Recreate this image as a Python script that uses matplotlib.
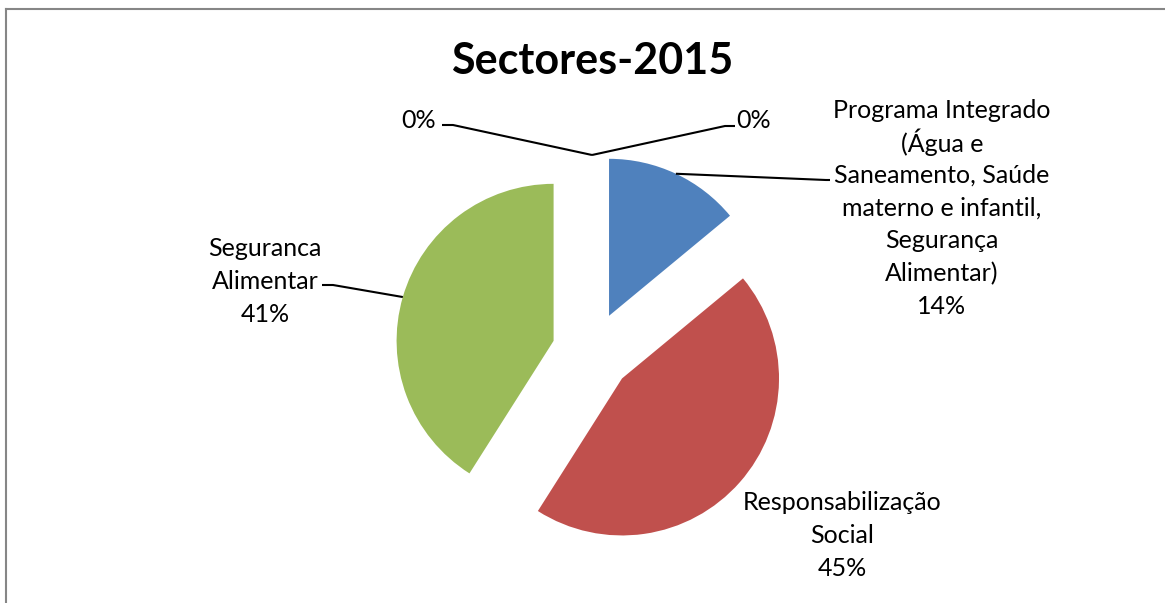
import matplotlib
matplotlib.use('Agg')
import matplotlib.pyplot as plt
import numpy as np
from matplotlib.lines import Line2D

plt.rcParams['font.family'] = ['Lato', 'DejaVu Sans']

categories = ["Programa Integrado\n(Água e\nSaneamento, Saúde\nmaterno e infantil,\nSegurança\nAlimentar)",
              "Responsabilização\nSocial",
              "Seguranca\nAlimentar",
              "",
              ""]
values = [14, 45, 41, 0, 0]
colors = ['#4F81BD', '#C0504D', '#9BBB59', '#8064A2', '#4BACC6']
title = "Sectores-2015"

W, H = 1165, 603
fig = plt.figure(figsize=(W / 100, H / 100), dpi=100)
ax = fig.add_axes([0, 0, 1, 1])


def P(x, y):
    return (x, H - y)


wedges, _ = ax.pie(values, colors=colors, startangle=90, counterclock=False,
                   explode=[40] * len(values), center=P(592, 352), radius=157,
                   frame=True, wedgeprops=dict(linewidth=0))
ax.set_xlim(0, W)
ax.set_ylim(0, H)
ax.axis('off')

# label layout (pixel coords, top-down): centre x, first-line centre y
label_pos = [(942, 108), (842, 501), (265, 247), (419, 118), (754, 118)]
elbows = [((826, 180), (830, 180)), None, ((333, 285), (322, 285)),
          ((453, 125), (442, 125)), ((725, 126), (735, 126))]
LINE_STEP = 32.7

total = sum(values)
FS = 18
for w, cat, v, lp, el in zip(wedges, categories, values, label_pos, elbows):
    pct = f"{v / total * 100:.0f}%"
    txt = f"{cat}\n{pct}" if cat else pct
    for i, line in enumerate(txt.split("\n")):
        ax.text(*P(lp[0], lp[1] + i * LINE_STEP), line, ha='center',
                va='center_baseline', fontsize=FS, color='black')
    if el is not None:
        th = np.deg2rad((w.theta1 + w.theta2) / 2)
        cx, cy = w.center
        sx, sy = cx + w.r * np.cos(th), cy + w.r * np.sin(th)
        e1, e2 = P(*el[0]), P(*el[1])
        ax.plot([sx, e1[0], e2[0]], [sy, e1[1], e2[1]], color='black', lw=1.5,
                solid_capstyle='butt')

ax.text(*P(592, 61), title, ha='center', va='center', fontsize=31,
        fontweight='bold', color='black')

# chart border
fig.add_artist(Line2D([6 / W, 6 / W], [0, 1 - 9 / H], transform=fig.transFigure,
                      color='#868686', lw=1.5))
fig.add_artist(Line2D([6 / W, 1], [1 - 9 / H, 1 - 9 / H], transform=fig.transFigure,
                      color='#868686', lw=1.5))

fig.savefig('out.png', dpi=100)
